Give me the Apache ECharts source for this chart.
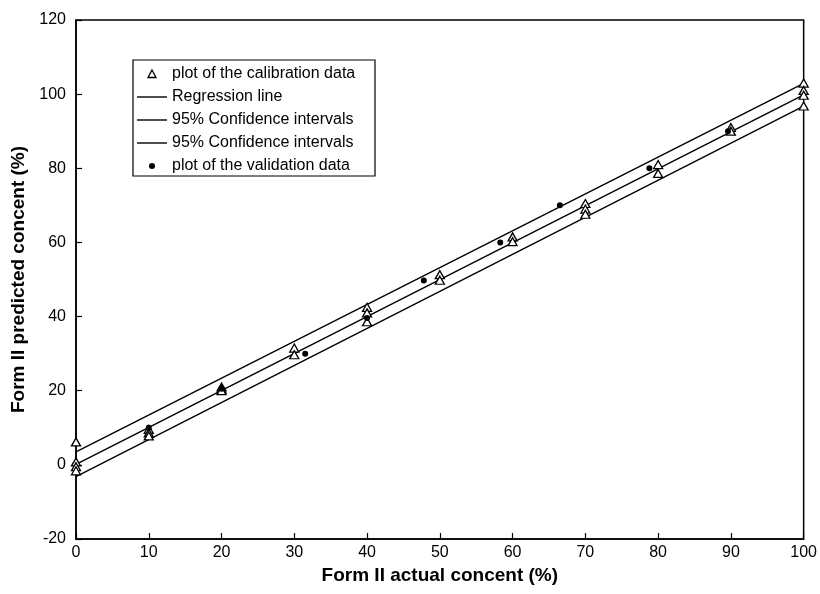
<!DOCTYPE html>
<html>
<head>
<meta charset="utf-8">
<script src="https://cdn.jsdelivr.net/npm/echarts@6/dist/echarts.min.js"></script>
<style>
  html, body { margin: 0; padding: 0; background: #fff; }
  #chart { width: 820px; height: 594px; }
</style>
</head>
<body>
<div id="chart"></div>
<script>
// Calibration samples: actual concentration (%) and predicted concentration (%)
const calibX = [0, 0, 0, 0, 10, 10, 10, 20, 20, 20, 30, 30, 40, 40, 40, 50, 50, 60, 60, 70, 70, 70, 80, 80, 90, 90, 100, 100, 100, 100];
const calibY = [6.2, 0.8, -0.5, -1.6, 9.6, 8.6, 7.8, 21, 20.4, 20, 31.5, 29.7, 42.5, 41, 38.6, 51.3, 49.8, 61.5, 60.2, 70.5, 69, 67.6, 81, 78.6, 91, 90, 103, 101, 99.7, 96.8];

// Validation samples
const validX = [10, 20, 31.5, 40, 47.8, 58.3, 66.5, 78.8, 89.6];
const validY = [10, 20.5, 30, 39.6, 49.7, 60, 70, 80, 90];

// Fitted line and its 95% confidence limits, given at both ends of the range
const lineX = [0, 100];
const regressionY = [0.1, 99.8];
const upperCI = [3.5, 102.9];
const lowerCI = [-3.2, 96.8];

// Legend entries, top to bottom
const legendLabels = [
  'plot of the calibration data',
  'Regression line',
  '95% Confidence intervals',
  '95% Confidence intervals',
  'plot of the validation data'
];

// Axis ranges
const xMin = 0, xMax = 100, xStep = 10;
const yMin = -20, yMax = 120, yStep = 20;

const pairs = (xs, ys) => xs.map((x, i) => [x, ys[i]]);

const lineStyle = { color: '#000', width: 1.4 };
const fontFamily = '"Liberation Sans", Arial, sans-serif';

// Boxed legend in the upper-left corner of the plot
const legendBox = { x: 133, y: 60, w: 242, h: 116, rowTop: 74, rowStep: 23, iconX: 137, iconW: 30, textX: 172 };
function buildLegend() {
  const b = legendBox;
  const els = [{
    type: 'rect',
    shape: { x: b.x, y: b.y, width: b.w, height: b.h },
    style: { fill: '#fff', stroke: '#000', lineWidth: 1.2 },
    z: 10
  }];
  legendLabels.forEach((label, i) => {
    const cy = b.rowTop + i * b.rowStep;
    const cx = b.iconX + b.iconW / 2;
    if (i === 0) {
      els.push({
        type: 'polygon',
        shape: { points: [[cx, cy - 4], [cx + 4, cy + 3.5], [cx - 4, cy + 3.5]] },
        style: { fill: '#fff', stroke: '#000', lineWidth: 1.3 },
        z: 11
      });
    } else if (i === 4) {
      els.push({
        type: 'circle',
        shape: { cx, cy, r: 3 },
        style: { fill: '#000' },
        z: 11
      });
    } else {
      els.push({
        type: 'line',
        shape: { x1: b.iconX, y1: cy, x2: b.iconX + b.iconW, y2: cy },
        style: { stroke: '#000', lineWidth: 1.4 },
        z: 11
      });
    }
    els.push({
      type: 'text',
      x: b.textX, y: cy,
      style: { text: label, fill: '#000', font: '16px ' + fontFamily, textVerticalAlign: 'middle', verticalAlign: 'middle' },
      z: 11
    });
  });
  return els;
}

const chart = echarts.init(document.getElementById('chart'), null, { renderer: 'canvas' });

chart.setOption({
  backgroundColor: '#fff',
  animation: false,
  grid: {
    left: 76, right: 15, top: 20, bottom: 55,
    show: true, borderColor: '#000', borderWidth: 1.5, backgroundColor: 'transparent'
  },
  xAxis: {
    type: 'value',
    min: xMin, max: xMax, interval: xStep,
    name: 'Form II actual concent (%)',
    nameLocation: 'middle',
    nameGap: 26,
    nameTextStyle: { fontFamily, fontSize: 19, fontWeight: 'bold', color: '#000' },
    axisLine: { show: true, onZero: false, lineStyle: { color: '#000', width: 1.5 } },
    axisTick: { show: true, inside: true, length: 6, lineStyle: { color: '#000', width: 1.2 } },
    axisLabel: { fontFamily, fontSize: 16, color: '#000', margin: 6 },
    splitLine: { show: false }
  },
  yAxis: {
    type: 'value',
    min: yMin, max: yMax, interval: yStep,
    name: 'Form II predicted concent (%)',
    nameLocation: 'middle',
    nameGap: 46,
    nameTextStyle: { fontFamily, fontSize: 19, fontWeight: 'bold', color: '#000' },
    axisLine: { show: true, onZero: false, lineStyle: { color: '#000', width: 1.5 } },
    axisTick: { show: true, inside: true, length: 6, lineStyle: { color: '#000', width: 1.2 } },
    axisLabel: { fontFamily, fontSize: 16, color: '#000', margin: 10 },
    splitLine: { show: false }
  },
  graphic: buildLegend(),
  series: [
    {
      name: 'Regression line',
      type: 'line',
      data: pairs(lineX, regressionY),
      symbol: 'none',
      lineStyle,
      silent: true,
      z: 2
    },
    {
      name: 'Upper 95% confidence limit',
      type: 'line',
      data: pairs(lineX, upperCI),
      symbol: 'none',
      lineStyle,
      silent: true,
      z: 2
    },
    {
      name: 'Lower 95% confidence limit',
      type: 'line',
      data: pairs(lineX, lowerCI),
      symbol: 'none',
      lineStyle,
      silent: true,
      z: 2
    },
    {
      name: 'plot of the calibration data',
      type: 'scatter',
      data: pairs(calibX, calibY),
      symbol: 'triangle',
      symbolSize: [9, 8],
      itemStyle: { color: '#fff', borderColor: '#000', borderWidth: 1.3, opacity: 1 },
      silent: true,
      z: 3
    },
    {
      name: 'plot of the validation data',
      type: 'scatter',
      data: pairs(validX, validY),
      symbol: 'circle',
      symbolSize: 6,
      itemStyle: { color: '#000', opacity: 1 },
      silent: true,
      z: 4
    }
  ]
});
</script>
</body>
</html>
